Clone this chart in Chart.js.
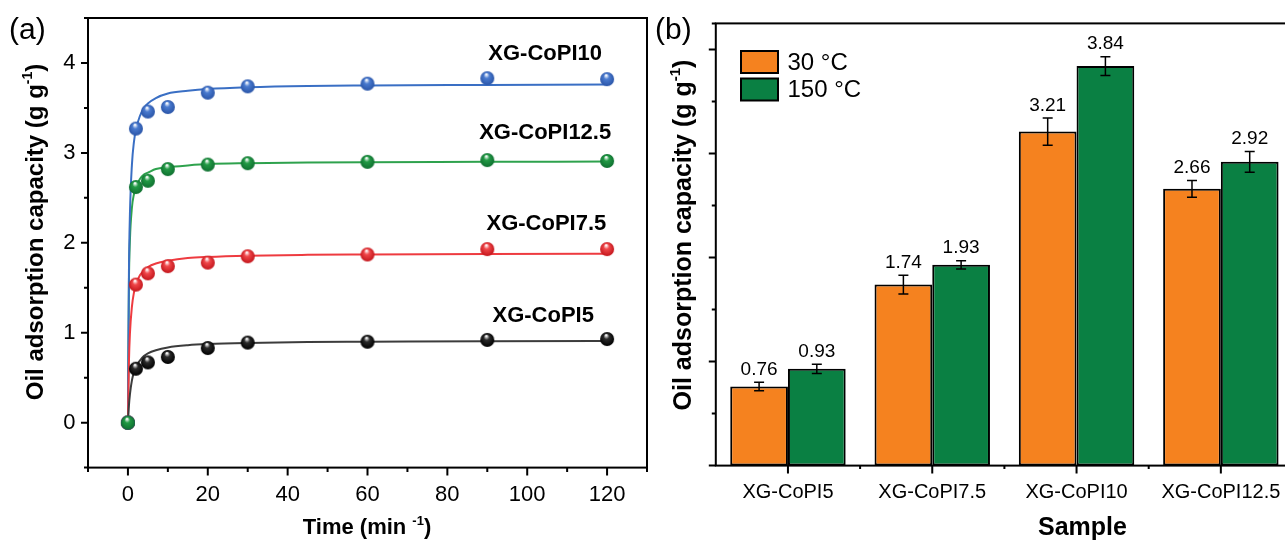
<!DOCTYPE html>
<html>
<head>
<meta charset="utf-8">
<script src="https://cdn.jsdelivr.net/npm/chart.js@4.4.1/dist/chart.umd.min.js"></script>
<style>
  html, body { margin: 0; padding: 0; background: #fff; overflow: hidden; width: 1285px; height: 540px; }
  .wrap { position: absolute; top: 0; width: 660px; height: 540px; }
  #wrapA { left: 0; }
  #wrapB { left: 640px; }
</style>
</head>
<body>
<div id="wrapA" class="wrap"><canvas id="chartA" width="660" height="540"></canvas></div>
<div id="wrapB" class="wrap"><canvas id="chartB" width="660" height="540"></canvas></div>
<script>
'use strict';

const FONT = '"Liberation Sans", Arial, sans-serif';

// ---- panel (a): kinetics ----
const sampleTimes = [0, 2, 5, 10, 20, 30, 60, 90, 120];
const pts5 = [0, 0.60, 0.67, 0.73, 0.83, 0.89, 0.90, 0.92, 0.93];
const pts75 = [0, 1.535, 1.66, 1.74, 1.78, 1.85, 1.87, 1.93, 1.93];
const pts10 = [0, 3.27, 3.46, 3.51, 3.67, 3.74, 3.77, 3.83, 3.82];
const pts125 = [0, 2.62, 2.69, 2.82, 2.87, 2.885, 2.90, 2.92, 2.91];

// fitted curves
const fitTimes = [0, 0.25, 0.5, 1, 1.5, 2, 3, 4, 5, 7, 10, 15, 20, 30, 45, 60, 90, 120];
const fit5 = [0, 0.19, 0.315, 0.47, 0.56, 0.62, 0.69, 0.74, 0.77, 0.805, 0.836, 0.861, 0.874, 0.887, 0.897, 0.90, 0.906, 0.908];
const fit75 = [0, 0.67, 0.99, 1.29, 1.445, 1.535, 1.64, 1.69, 1.73, 1.77, 1.80, 1.83, 1.843, 1.857, 1.866, 1.87, 1.876, 1.879];
const fit10 = [0, 1.67, 2.32, 2.87, 3.12, 3.26, 3.41, 3.50, 3.55, 3.61, 3.66, 3.69, 3.71, 3.73, 3.745, 3.75, 3.755, 3.76];
const fit125 = [0, 1.56, 2.03, 2.39, 2.54, 2.62, 2.71, 2.76, 2.78, 2.82, 2.84, 2.86, 2.875, 2.885, 2.893, 2.897, 2.90, 2.905];

const seriesNames = ['XG-CoPI5', 'XG-CoPI7.5', 'XG-CoPI10', 'XG-CoPI12.5'];

// ---- panel (b): bars ----
const samples = ['XG-CoPI5', 'XG-CoPI7.5', 'XG-CoPI10', 'XG-CoPI12.5'];
const temps = ['30 °C', '150 °C'];
const cap30 = [0.76, 1.74, 3.21, 2.66];
const cap150 = [0.93, 1.93, 3.84, 2.92];
const err30 = [0.04, 0.09, 0.13, 0.08];
const err150 = [0.045, 0.04, 0.09, 0.10];

const xy = (xs, ys) => xs.map((x, i) => ({ x, y: ys[i] }));

function sphere(base, dark) {
  const r = 7, c = document.createElement('canvas');
  c.width = c.height = 2 * r + 2;
  const g = c.getContext('2d');
  const grad = g.createRadialGradient(r, r - 3, 0.5, r + 1, r + 1, r);
  grad.addColorStop(0, '#ffffff');
  grad.addColorStop(0.35, base);
  grad.addColorStop(1, dark);
  g.fillStyle = grad;
  g.beginPath(); g.arc(r + 1, r + 1, r, 0, Math.PI * 2); g.fill();
  return c;
}

function richText(ctx, parts, cx, cy, size, rot) {
  ctx.save();
  ctx.translate(cx, cy);
  ctx.rotate(rot || 0);
  ctx.fillStyle = '#000';
  ctx.textBaseline = 'middle';
  ctx.textAlign = 'left';
  const fontOf = p => `bold ${p.sup ? Math.round(size * 0.6) : size}px ${FONT}`;
  const widths = parts.map(p => { ctx.font = fontOf(p); return ctx.measureText(p.text).width; });
  let x = -widths.reduce((a, b) => a + b, 0) / 2;
  parts.forEach((p, i) => {
    ctx.font = fontOf(p);
    ctx.fillText(p.text, x, p.sup ? -size * 0.32 : 0);
    x += widths[i];
  });
  ctx.restore();
}

function drawFrame(chart, ticksX, ticksY) {
  const { ctx, chartArea: a, scales: { x, y } } = chart;
  ctx.save();
  ctx.strokeStyle = '#000';
  ctx.lineWidth = 2;
  ctx.strokeRect(a.left, a.top, a.right - a.left, a.bottom - a.top);
  ctx.beginPath();
  x.ticks.forEach((t, i) => {
    const px = x.getPixelForTick(i);
    const len = ticksX(t.value) ? 8 : 4.5;
    ctx.moveTo(px, a.bottom); ctx.lineTo(px, a.bottom + len);
  });
  y.ticks.forEach((t, i) => {
    const py = y.getPixelForTick(i);
    const len = ticksY(t.value) ? 7 : 4;
    ctx.moveTo(a.left, py); ctx.lineTo(a.left - len, py);
  });
  ctx.stroke();
  ctx.restore();
}

const noPad = s => { s.paddingTop = 0; s.paddingBottom = 0; s.paddingLeft = 0; s.paddingRight = 0; };

const curveLabels = [
  { text: 'XG-CoPI10', t: 104.5, v: 4.10 },
  { text: 'XG-CoPI12.5', t: 104.5, v: 3.22 },
  { text: 'XG-CoPI7.5', t: 104.8, v: 2.205 },
  { text: 'XG-CoPI5', t: 104, v: 1.19 }
];

const decorA = {
  id: 'decorA',
  afterDraw(chart) {
    const { ctx, scales: { x, y } } = chart;
    drawFrame(chart, v => v % 20 === 0 && v >= 0 && v <= 120, v => Number.isInteger(v) && v >= 0);
    ctx.save();
    ctx.fillStyle = '#000';
    ctx.textAlign = 'center';
    ctx.textBaseline = 'middle';
    ctx.font = `bold 22px ${FONT}`;
    curveLabels.forEach(l => ctx.fillText(l.text, x.getPixelForValue(l.t), y.getPixelForValue(l.v)));
    ctx.font = `30px ${FONT}`;
    ctx.textAlign = 'left';
    ctx.fillText('(a)', 9, 31);
    ctx.restore();
    richText(ctx, [{ text: 'Oil adsorption capacity (g g' }, { text: '-1', sup: true }, { text: ')' }], 36, 232, 24, -Math.PI / 2);
    richText(ctx, [{ text: 'Time (min ' }, { text: '-1', sup: true }, { text: ')' }], 367, 528, 22, 0);
  }
};

const ptsStyle = [
  { data: pts5, color: '#2b2b2b', dark: '#000000', line: '#3c3c3c', fit: fit5 },
  { data: pts75, color: '#f0474a', dark: '#c4161c', line: '#ee3b40', fit: fit75 },
  { data: pts10, color: '#4a7bd0', dark: '#2a55a8', line: '#3a6fc4', fit: fit10 },
  { data: pts125, color: '#229a45', dark: '#0f7030', line: '#2ea24d', fit: fit125 }
];

const datasetsA = [];
ptsStyle.forEach((s, i) => {
  datasetsA.push({
    label: seriesNames[i] + ' fit',
    data: xy(fitTimes, s.fit),
    borderColor: s.line,
    borderWidth: 2,
    pointRadius: 0,
    cubicInterpolationMode: 'monotone',
    fill: false,
    order: 10
  });
  datasetsA.push({
    label: seriesNames[i],
    data: xy(sampleTimes, s.data),
    showLine: false,
    pointStyle: sphere(s.color, s.dark),
    pointRadius: 7,
    order: i === 3 ? 0 : 5 - i
  });
});

new Chart(document.getElementById('chartA'), {
  type: 'line',
  data: { datasets: datasetsA },
  options: {
    responsive: false,
    animation: false,
    events: [],
    layout: { padding: { left: 0, right: 13, top: 18, bottom: 0 } },
    plugins: { legend: { display: false }, tooltip: { enabled: false } },
    scales: {
      x: {
        type: 'linear', min: -10, max: 130,
        grid: { display: false, drawTicks: false },
        border: { display: false },
        ticks: {
          stepSize: 10, padding: 14, color: '#000', font: { family: FONT, size: 22 },
          maxRotation: 0, autoSkip: false,
          callback: v => (v % 20 === 0 && v >= 0 && v <= 120) ? String(v) : ''
        },
        afterFit: s => { noPad(s); s.height = 72.4; }
      },
      y: {
        type: 'linear', min: -0.5, max: 4.5,
        grid: { display: false, drawTicks: false },
        border: { display: false },
        ticks: {
          stepSize: 0.5, padding: 12.5, color: '#000', font: { family: FONT, size: 22 },
          autoSkip: false,
          callback: v => (Number.isInteger(v) && v >= 0) ? String(v) : ''
        },
        afterFit: s => { noPad(s); s.width = 88; }
      }
    }
  },
  plugins: [decorA]
});

// ---- panel (b) ----
const barColors = ['#f5821f', '#0a8043'];
const errs = [err30, err150];

const decorB = {
  id: 'decorB',
  afterDatasetsDraw(chart) {
    const { ctx, scales: { y } } = chart;
    ctx.save();
    ctx.strokeStyle = '#000';
    ctx.lineWidth = 1.5;
    ctx.fillStyle = '#000';
    ctx.font = `19px ${FONT}`;
    ctx.textAlign = 'center';
    ctx.textBaseline = 'middle';
    chart.data.datasets.forEach((ds, di) => {
      chart.getDatasetMeta(di).data.forEach((bar, i) => {
        const v = ds.data[i], e = errs[di][i];
        const top = y.getPixelForValue(v + e), bot = y.getPixelForValue(v - e);
        ctx.beginPath();
        ctx.moveTo(bar.x, top); ctx.lineTo(bar.x, bot);
        ctx.moveTo(bar.x - 5, top); ctx.lineTo(bar.x + 5, top);
        ctx.moveTo(bar.x - 5, bot); ctx.lineTo(bar.x + 5, bot);
        ctx.stroke();
        ctx.fillText(v.toFixed(2), bar.x, top - 12.5);
      });
    });
    ctx.restore();
  },
  afterDraw(chart) {
    const { ctx } = chart;
    drawFrame(chart, () => true, v => Number.isInteger(v));
    // minor ticks between categories
    const { chartArea: a, scales: { x } } = chart;
    ctx.save();
    ctx.strokeStyle = '#000';
    ctx.lineWidth = 2;
    ctx.beginPath();
    for (let i = 0; i < x.ticks.length - 1; i++) {
      const px = (x.getPixelForTick(i) + x.getPixelForTick(i + 1)) / 2;
      ctx.moveTo(px, a.bottom); ctx.lineTo(px, a.bottom + 3.5);
    }
    ctx.stroke();
    // legend
    chart.data.datasets.forEach((ds, i) => {
      const bx = 101, by = 51 + i * 27.5;
      ctx.fillStyle = ds.backgroundColor;
      ctx.fillRect(bx, by, 37, 22);
      ctx.strokeRect(bx, by, 37, 22);
      ctx.fillStyle = '#000';
      ctx.font = `24px ${FONT}`;
      ctx.textAlign = 'left';
      ctx.textBaseline = 'middle';
      ctx.fillText(ds.label, bx + 46.5, by + 12);
    });
    ctx.font = `30px ${FONT}`;
    ctx.fillText('(b)', 15, 31);
    ctx.restore();
    richText(ctx, [{ text: 'Oil adsorption capacity (g g' }, { text: '-1', sup: true }, { text: ')' }], 44, 235, 25, -Math.PI / 2);
    richText(ctx, [{ text: 'Sample' }], 442.5, 528, 25, 0);
  }
};

new Chart(document.getElementById('chartB'), {
  type: 'bar',
  data: {
    labels: samples,
    datasets: [
      { label: temps[0], data: cap30, backgroundColor: barColors[0] },
      { label: temps[1], data: cap150, backgroundColor: barColors[1] }
    ]
  },
  options: {
    responsive: false,
    animation: false,
    events: [],
    layout: { padding: { left: 0, right: 7, top: 23.4, bottom: 0 } },
    plugins: { legend: { display: false }, tooltip: { enabled: false } },
    datasets: {
      bar: { categoryPercentage: 0.8, barPercentage: 1, borderColor: '#000', borderWidth: 2, borderSkipped: false }
    },
    scales: {
      x: {
        grid: { display: false, drawTicks: false },
        border: { display: false },
        ticks: { padding: 15, color: '#000', font: { family: FONT, size: 20 }, maxRotation: 0, autoSkip: false },
        afterFit: s => { noPad(s); s.height = 74.4; }
      },
      y: {
        min: 0, max: 4.25,
        grid: { display: false, drawTicks: false },
        border: { display: false },
        ticks: { stepSize: 0.5, display: false },
        afterFit: s => { noPad(s); s.width = 75.8; }
      }
    }
  },
  plugins: [decorB]
});
</script>
</body>
</html>
